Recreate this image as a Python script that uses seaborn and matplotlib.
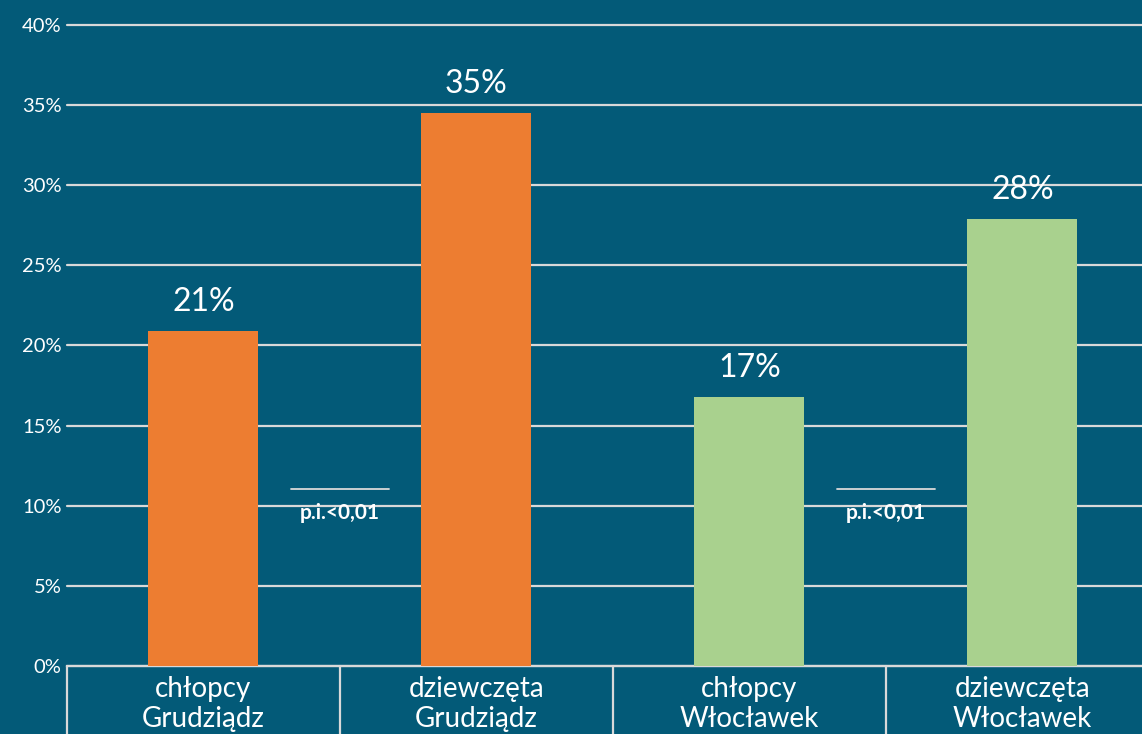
import pandas as pd
import matplotlib
matplotlib.use("Agg")
import matplotlib.pyplot as plt
import matplotlib.transforms as mtransforms
import seaborn as sns

# Data
categories = ["chłopcy\nGrudziądz", "dziewczęta\nGrudziądz", "chłopcy\nWłocławek", "dziewczęta\nWłocławek"]
values = [20.9, 34.5, 16.8, 27.9]
value_labels = ["21%", "35%", "17%", "28%"]
bar_colors = ["#ED7D31", "#ED7D31", "#A9D18E", "#A9D18E"]
sig_positions = [0.5, 2.5]
sig_text = "p.i.<0,01"
y_ticks = [0, 5, 10, 15, 20, 25, 30, 35, 40]

bg = "#035A78"
grid_col = "#D9D9D9"

sns.set_style("white")
plt.rcParams["font.family"] = ["Lato", "DejaVu Sans"]

df = pd.DataFrame({"cat": categories, "val": values})

fig = plt.figure(figsize=(11.42, 7.34), dpi=100, facecolor=bg)
ax = fig.add_axes([67 / 1142, 1 - 666 / 734, 1 - 67 / 1142, (666 - 25) / 734])
ax.set_facecolor(bg)

sns.barplot(data=df, x="cat", y="val", hue="cat", palette=bar_colors,
            width=0.403, saturation=1, legend=False, ax=ax, zorder=3,
            linewidth=0, edgecolor="none")

ax.set_ylim(0, 40)
ax.set_xlim(-0.5, 3.438)
ax.set_yticks(y_ticks)
ax.set_yticklabels([f"{t}%" for t in y_ticks], color="white", fontsize=14.5)
ax.yaxis.grid(True, color=grid_col, linewidth=1.6, zorder=0)
for gl in ax.get_ygridlines():
    gl.set_clip_on(False)
ax.set_axisbelow(True)
ax.tick_params(axis="both", length=0)
ax.tick_params(axis="y", pad=4)
ax.tick_params(axis="x", pad=7)
ax.set_xticks(range(len(categories)))
ax.set_xticklabels(categories, color="white", fontsize=20, linespacing=1.22)
ax.set_xlabel("")
ax.set_ylabel("")
for s in ["top", "right", "left"]:
    ax.spines[s].set_visible(False)
ax.spines["bottom"].set_color(grid_col)
ax.spines["bottom"].set_linewidth(1.6)

# value labels on bars
for i, (v, lab) in enumerate(zip(values, value_labels)):
    ax.text(i, v + 1.8, lab, ha="center", va="center", color="white", fontsize=23)

# category separators below the axis
trans = mtransforms.blended_transform_factory(ax.transData, ax.transAxes)
for xs in [-0.5, 0.5, 1.5, 2.5]:
    ax.plot([xs, xs], [0, -0.2], transform=trans, color=grid_col, linewidth=1.6, clip_on=False)

# significance markers
for xp in sig_positions:
    ax.plot([xp - 0.18, xp + 0.18], [11.05, 11.05], color=grid_col, linewidth=1.3, zorder=4)
    ax.text(xp, 9.55, sig_text, ha="center", va="center", color="white",
            fontsize=15, fontweight="bold", zorder=4)

fig.savefig("out.png", dpi=100, facecolor=bg)
